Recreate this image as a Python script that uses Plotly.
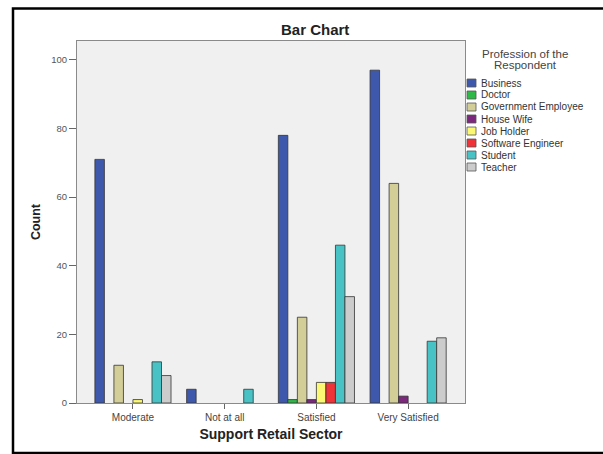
import plotly.graph_objects as go

categories = ["Moderate", "Not at all", "Satisfied", "Very Satisfied"]
professions = ["Business", "Doctor", "Government Employee", "House Wife",
               "Job Holder", "Software Engineer", "Student", "Teacher"]
business = [71, 4, 78, 97]
doctor = [None, None, 1, None]
government_employee = [11, None, 25, 64]
house_wife = [None, None, 1, 2]
job_holder = [1, None, 6, None]
software_engineer = [None, None, 6, None]
student = [12, 4, 46, 18]
teacher = [8, None, 31, 19]
y_ticks = [0, 20, 40, 60, 80, 100]
legend_title_lines = ["Profession of the", "Respondent"]

series = [business, doctor, government_employee, house_wife,
          job_holder, software_engineer, student, teacher]
colors = ["#3E58AC", "#2EB848", "#D3CE97", "#7C287D",
          "#FBF873", "#EF3338", "#48C2C5", "#CCCCCC"]

W, H = 603, 454
L, R, T, B = 77, 465, 41, 403
FONT = "Liberation Sans, Arial, sans-serif"


def px(x):
    return (x - L) / (R - L)


def py(y):
    return (B - y) / (B - T)


fig = go.Figure()
for name, vals, col in zip(professions, series, colors):
    fig.add_trace(go.Bar(
        name=name, x=categories, y=vals,
        marker=dict(color=col, line=dict(color="#333333", width=0.8)),
        showlegend=False,
    ))

shapes = []
annotations = []
# outer frame (cropped on the right)
shapes.append(dict(type="rect", xref="paper", yref="paper",
                   x0=px(13), x1=px(615), y0=py(453), y1=py(8.5),
                   line=dict(color="black", width=2.5)))

# manual legend
for j, line in enumerate(legend_title_lines):
    annotations.append(dict(xref="paper", yref="paper", x=px(525),
                            y=py(53.5 + 11.5 * j), text=line, showarrow=False,
                            xanchor="center", yanchor="middle",
                            font=dict(family=FONT, size=11.5, color="#444444")))
for i, (name, col) in enumerate(zip(professions, colors)):
    yc = 83 + 12 * i
    shapes.append(dict(type="rect", xref="paper", yref="paper",
                       x0=px(467), x1=px(476), y0=py(yc + 4), y1=py(yc - 4),
                       fillcolor=col, line=dict(color="#555555", width=0.8)))
    annotations.append(dict(xref="paper", yref="paper", x=px(478.5), y=py(yc),
                            text=name, showarrow=False, xanchor="left",
                            yanchor="middle",
                            font=dict(family=FONT, size=10, color="#333333")))

annotations.append(dict(xref="paper", yref="paper", x=px(315), y=py(29),
                        text="<b>Bar Chart</b>", showarrow=False,
                        xanchor="center", yanchor="middle",
                        font=dict(family=FONT, size=15, color="#222222")))

fig.update_layout(
    width=W, height=H, autosize=False,
    margin=dict(l=L, r=W - R, t=T, b=H - B, pad=0),
    paper_bgcolor="white", plot_bgcolor="#F0F0F0",
    barmode="group", bargap=0.17, bargroupgap=0,
    font=dict(family=FONT, size=10, color="#444444"),
    shapes=shapes, annotations=annotations,
)
fig.update_xaxes(
    range=[-0.61, 3.62], showline=True, linecolor="#8A8A8A", linewidth=1.2,
    mirror=True, ticks="outside", ticklen=5, tickcolor="#666666",
    tickfont=dict(family=FONT, size=10, color="#444444"),
    title=dict(text="<b>Support Retail Sector</b>", standoff=7,
               font=dict(family=FONT, size=14, color="#222222")),
    showgrid=False,
)
fig.update_yaxes(
    range=[0, 105.5], tickvals=y_ticks, showline=True, linecolor="#8A8A8A",
    linewidth=1.2, mirror=True, ticks="outside", ticklen=7,
    tickcolor="#666666", tickfont=dict(family=FONT, size=9.5, color="#555555"),
    title=dict(text="<b>Count</b>", standoff=7,
               font=dict(family=FONT, size=12.5, color="#222222")),
    showgrid=False, zeroline=False,
)

fig.write_html(
    "out.html",
    config={"displayModeBar": False},
    post_script="document.body.style.margin='0';document.body.style.overflow='hidden';",
)
